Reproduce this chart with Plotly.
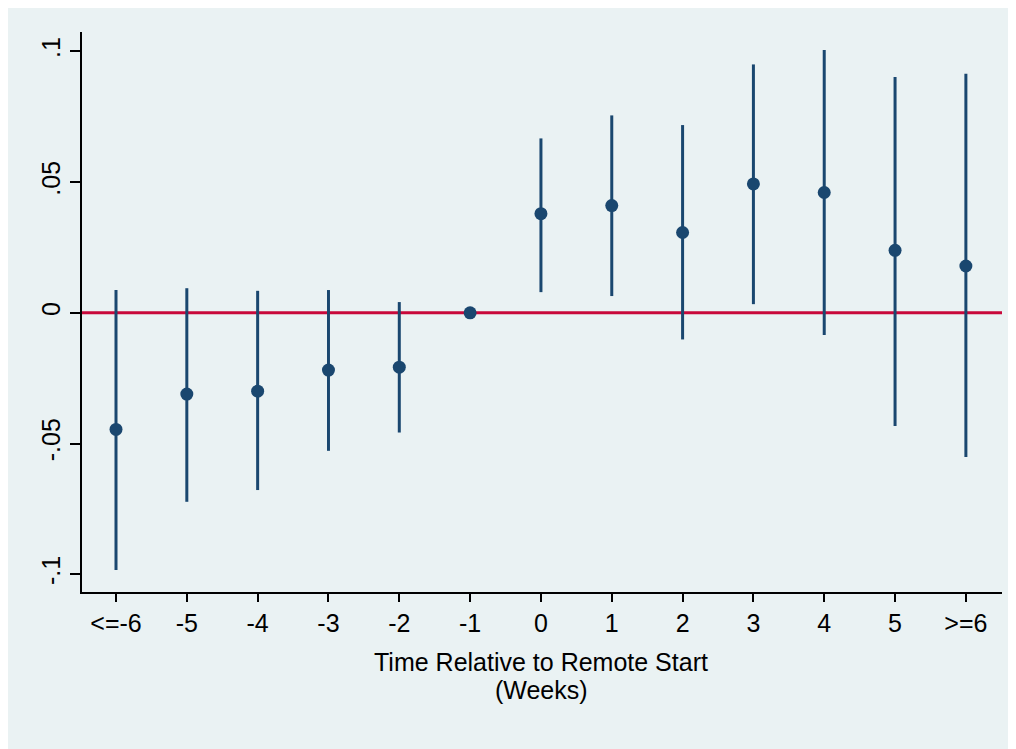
import plotly.graph_objects as go

# Data
week_labels = ["<=-6", "-5", "-4", "-3", "-2", "-1", "0", "1", "2", "3", "4", "5", ">=6"]
week_pos = list(range(len(week_labels)))
coef = [-0.0446, -0.0311, -0.0300, -0.0219, -0.0208, 0.0, 0.0379, 0.0410, 0.0307, 0.0493, 0.0460, 0.0239, 0.0179]
ci_upper = [0.0087, 0.0094, 0.0084, 0.0087, 0.0041, 0.0, 0.0667, 0.0755, 0.0718, 0.0950, 0.1005, 0.0902, 0.0914]
ci_lower = [-0.0984, -0.0723, -0.0678, -0.0528, -0.0458, 0.0, 0.0079, 0.0064, -0.0102, 0.0033, -0.0085, -0.0433, -0.0552]
y_ticks = [-0.1, -0.05, 0, 0.05, 0.1]
y_tick_labels = ["-.1", "-.05", "0", ".05", ".1"]
x_range = [-0.48, 12.51]
ref_line_y = 0

NAVY = "#1A476F"
RED = "#C8083A"
BG = "#EAF2F3"
FONT = "Liberation Sans, Arial, sans-serif"

err_plus = [u - c for u, c in zip(ci_upper, coef)]
err_minus = [c - l for c, l in zip(coef, ci_lower)]

fig = go.Figure()
# red reference line at zero (drawn beneath the estimates)
fig.add_trace(go.Scatter(
    x=x_range, y=[ref_line_y, ref_line_y], mode="lines",
    line=dict(color=RED, width=3), showlegend=False, hoverinfo="skip",
))
fig.add_trace(go.Scatter(
    x=week_pos, y=coef, mode="markers",
    marker=dict(color=NAVY, size=13, line=dict(width=0)),
    error_y=dict(type="data", symmetric=False, array=err_plus, arrayminus=err_minus,
                 color=NAVY, thickness=3, width=0),
    showlegend=False, hoverinfo="skip",
))

# page has an 8px body margin; work in figure pixels (page px - 8)
W, H = 1008, 741
L, R, T, B = 74, 994, 24, 584
pw, ph = R - L, B - T

# light Stata-like background panel
fig.add_shape(type="rect", xref="paper", yref="paper", layer="below",
              x0=(0 - L) / pw, x1=(1004 - L) / pw,
              y0=(B - H) / ph, y1=(B - 0) / ph,
              fillcolor=BG, line_width=0)

fig.update_layout(
    width=W, height=H,
    margin=dict(l=L, r=W - R, t=T, b=H - B, pad=0),
    paper_bgcolor="white", plot_bgcolor="white",
    font=dict(family=FONT, size=25, color="black"),
    xaxis=dict(
        range=x_range, tickmode="array", tickvals=week_pos, ticktext=week_labels,
        showgrid=False, zeroline=False, showline=True, linecolor="black", linewidth=2,
        ticks="outside", ticklen=8, tickwidth=2, tickcolor="black",
        tickfont=dict(size=25),
    ),
    yaxis=dict(
        range=[-0.1068, 0.1074], tickmode="array", tickvals=y_ticks, ticktext=y_tick_labels,
        tickangle=-90, showgrid=True, gridcolor=BG, gridwidth=2.5, zeroline=False,
        showline=True, linecolor="black", linewidth=2,
        ticks="outside", ticklen=10, tickwidth=2, tickcolor="black",
        tickfont=dict(size=25),
    ),
)

fig.add_annotation(text="Time Relative to Remote Start", xref="paper", yref="paper",
                   x=(533 - L) / pw, y=(B - 654) / ph, showarrow=False,
                   xanchor="center", yanchor="middle", font=dict(size=25))
fig.add_annotation(text="(Weeks)", xref="paper", yref="paper",
                   x=(533 - L) / pw, y=(B - 682) / ph, showarrow=False,
                   xanchor="center", yanchor="middle", font=dict(size=25))

fig.write_html("out.html")
